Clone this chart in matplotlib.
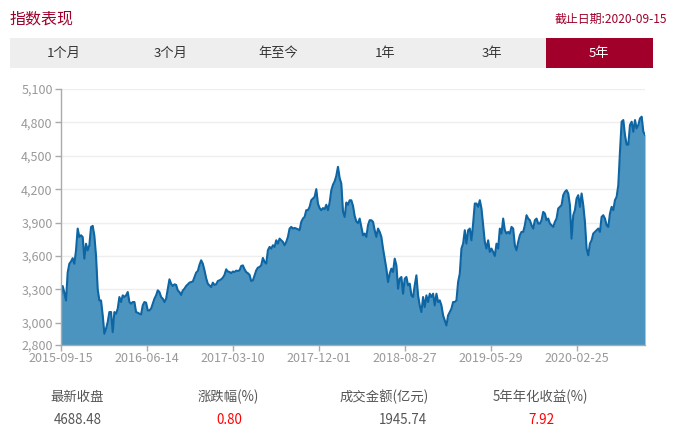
import matplotlib
matplotlib.use("Agg")
import matplotlib.pyplot as plt
from matplotlib.patches import Rectangle
import numpy as np

plt.rcParams['font.family'] = ['Noto Sans CJK SC', 'DejaVu Sans']

# ---- data ----
seg1 = [3240, 3330, 3270, 3200, 3450, 3530, 3550, 3580, 3530, 3650,
        3846, 3770, 3786, 3770, 3576, 3710, 3650, 3696, 3860, 3870,
        3780, 3600, 3300, 3200, 3200, 3066, 2901, 2946, 3006, 3096,
        3096, 2916, 3096, 3081, 3126, 3231, 3186, 3246, 3231, 3246,
        3276, 3186, 3171, 3186, 3186, 3096, 3090, 3081, 3075, 3156,
        3186, 3180, 3111, 3111, 3126, 3171, 3216, 3246, 3291, 3276]
seg2 = [3231, 3216, 3186, 3216, 3306, 3390, 3350, 3330, 3345, 3340,
        3290, 3276, 3250, 3290, 3306, 3330, 3345, 3360, 3366, 3370,
        3410, 3450, 3465, 3520, 3561, 3530, 3470, 3400, 3350, 3336,
        3321, 3360, 3340, 3345, 3375, 3381, 3390, 3405, 3430, 3480,
        3460, 3456, 3445, 3460, 3455, 3468, 3465, 3470, 3510, 3515,
        3480, 3455, 3445, 3430, 3375, 3380, 3426, 3470, 3495]
seg3 = [3501, 3516, 3582, 3546, 3531, 3651, 3681, 3666, 3696, 3681,
        3741, 3711, 3756, 3741, 3726, 3696, 3726, 3771, 3846, 3861,
        3846, 3852, 3846, 3840, 3831, 3906, 3936, 3951, 4011, 4011,
        4041, 4101, 4116, 4131, 4200, 4070, 4030, 4011, 4030, 4020,
        4060, 4011, 4080, 4190, 4240, 4270, 4320, 4401, 4300, 4250,
        4000, 3950, 4080, 4060, 4100, 4100, 4050, 3960, 3910, 3895]
seg4 = [3936, 3861, 3786, 3801, 3771, 3876, 3921, 3921, 3906, 3831,
        3771, 3846, 3816, 3771, 3666, 3576, 3486, 3366, 3441, 3486,
        3456, 3576, 3516, 3306, 3396, 3411, 3261, 3396, 3411, 3336,
        3351, 3246, 3231, 3336, 3426, 3246, 3156, 3096, 3231, 3141,
        3246, 3186, 3261, 3231, 3261, 3156, 3261, 3186, 3201, 3156,
        3066, 3021, 2976, 3066, 3096, 3126, 3186, 3186, 3201, 3366,
        3441]
seg5 = [3666, 3711, 3831, 3711, 3831, 3846, 3741, 3891, 4071, 4071,
        4041, 4101, 4026, 3876, 3726, 3666, 3741, 3636, 3666, 3636,
        3600, 3711, 3666, 3846, 3801, 3936, 3831, 3801, 3816, 3801,
        3861, 3846, 3696, 3651, 3726, 3786, 3816, 3816, 3876, 3966,
        3936, 3921, 3876, 3846, 3921, 3936, 3891, 3891, 3921, 3996,
        3981, 3921, 3936, 3891, 3876, 3861, 3906, 3936, 4026, 4041]
seg6 = [4056, 4146, 4176, 4191, 4161, 4056, 3756, 3966, 4011, 4116,
        4146, 4041, 4161, 4056, 3906, 3666, 3606, 3711, 3741, 3801,
        3816, 3831, 3846, 3816, 3951, 3966, 3936, 3876, 3861, 3981,
        4041, 4011, 4101, 4131, 4236, 4536, 4806, 4821, 4686, 4600,
        4600, 4776, 4806, 4716, 4821, 4746, 4776, 4836, 4851, 4716,
        4688.48]
index_values = seg1 + seg2 + seg3 + seg4 + seg5 + seg6

x_tick_labels = ["2015-09-15", "2016-06-14", "2017-03-10", "2017-12-01",
                 "2018-08-27", "2019-05-29", "2020-02-25"]
y_ticks = [2800, 3000, 3300, 3600, 3900, 4200, 4500, 4800, 5100]

tabs = ["1个月", "3个月", "年至今", "1年", "3年", "5年"]
active_tab = "5年"
stat_labels = ["最新收盘", "涨跌幅(%)", "成交金额(亿元)", "5年年化收益(%)"]
stat_values = ["4688.48", "0.80", "1945.74", "7.92"]
stat_red = [False, True, False, True]
title = "指数表现"
date_text = "截止日期:2020-09-15"

# ---- layout ----
W, H = 682, 436
fig = plt.figure(figsize=(W / 100, H / 100), dpi=100)
fig.patch.set_facecolor("white")

def fx(x):
    return x / W

def fy(y):
    return 1 - y / H

dark_red = "#a0002a"

fig.text(fx(10), fy(19), title, color=dark_red, fontsize=11.5, va="center", ha="left")
fig.text(fx(667), fy(19), date_text, color=dark_red, fontsize=8.6, va="center", ha="right")

# tab bar
bar_l, bar_r, bar_t, bar_b = 10, 653, 38, 68
fig.patches.append(Rectangle((fx(bar_l), fy(bar_b)), fx(bar_r - bar_l), (bar_b - bar_t) / H,
                             transform=fig.transFigure, facecolor="#eeeeee", edgecolor="none"))
tab_w = (bar_r - bar_l) / len(tabs)
for i, t in enumerate(tabs):
    left = bar_l + i * tab_w
    if t == active_tab:
        fig.patches.append(Rectangle((fx(left), fy(bar_b)), fx(tab_w), (bar_b - bar_t) / H,
                                     transform=fig.transFigure, facecolor=dark_red, edgecolor="none"))
        col = "white"
    else:
        col = "#333333"
    fig.text(fx(left + tab_w / 2), fy(53), t, color=col, fontsize=9.5, ha="center", va="center")

# chart
ax_l, ax_r, ax_t, ax_b = 61, 645, 89, 345
ax = fig.add_axes([fx(ax_l), fy(ax_b), fx(ax_r - ax_l), (ax_b - ax_t) / H])
n = len(index_values)
x = np.arange(n)
ax.fill_between(x, index_values, 2800, color="#4b94c0", linewidth=0)
ax.plot(x, index_values, color="#0d65a3", linewidth=1.5, solid_joinstyle="round")
ax.set_xlim(0, n - 1)
ax.set_ylim(2800, 5100)
ax.set_yticks(y_ticks)
ax.set_yticklabels([f"{v:,}" for v in y_ticks])
step = (n - 1) * 86 / (ax_r - ax_l)
ax.set_xticks([i * step for i in range(len(x_tick_labels))])
ax.set_xticklabels(x_tick_labels)
for v in y_ticks[1:]:
    ax.axhline(v, color="#eeeeee", linewidth=1, zorder=0)
for s in ["top", "right"]:
    ax.spines[s].set_visible(False)
for s in ["left", "bottom"]:
    ax.spines[s].set_color("#aaaaaa")
    ax.spines[s].set_linewidth(1)
ax.tick_params(axis="both", colors="#aaaaaa", labelcolor="#999999", labelsize=9, length=4, width=1)
ax.tick_params(axis="x", pad=1)
ax.tick_params(axis="y", pad=2)
ax.set_facecolor("none")

# stats
label_x = [77, 228, 384, 540]
value_x = [78, 229, 403, 541]
for lx, vx, lab, val, red in zip(label_x, value_x, stat_labels, stat_values, stat_red):
    fig.text(fx(lx), fy(397), lab, color="#555555", fontsize=9.6, ha="center", va="center")
    fig.text(fx(vx), fy(420), val, color="#ff0000" if red else "#555555", fontsize=9.6,
             ha="center", va="center")

fig.savefig("out.png", dpi=100)
